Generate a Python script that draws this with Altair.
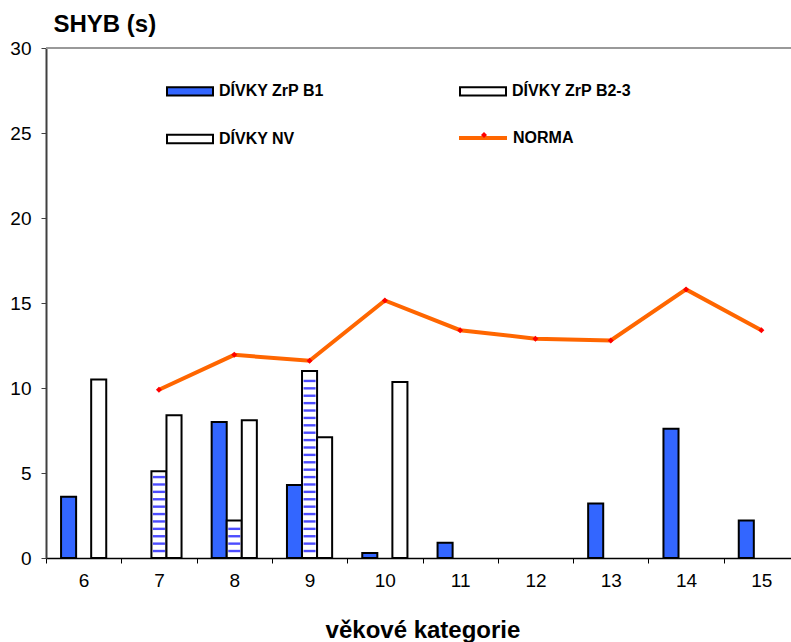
import altair as alt
import pandas as pd

categories = [6, 7, 8, 9, 10, 11, 12, 13, 14, 15]
b1 = [3.6, None, 8.0, 4.3, 0.3, 0.9, None, 3.2, 7.6, 2.2]
b23 = [None, 5.1, 2.2, 11.0, None, None, None, None, None, None]
nv = [10.5, 8.4, 8.1, 7.1, 10.35, None, None, None, None, None]
norma = [None, 9.9, 11.95, 11.6, 15.15, 13.4, 12.9, 12.8, 15.8, 13.4]

series_names = ["DÍVKY ZrP B1", "DÍVKY ZrP B2-3", "DÍVKY NV"]
legend_order = ["DÍVKY ZrP B1", "DÍVKY NV", "DÍVKY ZrP B2-3"]
legend_fill = ["#3366FF", "#FFFFFF", "#FFFFFF"]

rows = []
for name, vals in zip(series_names, [b1, b23, nv]):
    for c, v in zip(categories, vals):
        if v is not None:
            rows.append({"cat": c, "series": name, "value": v})
bars_df = pd.DataFrame(rows)

norma_df = pd.DataFrame(
    [{"cat": c, "value": v, "s": "NORMA", "p": "NORMA "} for c, v in zip(categories, norma) if v is not None]
)

FONT = "Liberation Sans"

x_scale = alt.Scale(type="band", paddingInner=0, paddingOuter=0, range=[0, 753])
xoff_scale = alt.Scale(domain=series_names, paddingInner=0, paddingOuter=1)
y_scale = alt.Scale(domain=[0, 30], nice=False)

x_axis = alt.Axis(
    title="věkové kategorie", titleFontSize=24, titleFontWeight="bold", titleFont=FONT,
    titleColor="black", titlePadding=28,
    labelFontSize=19, labelFont=FONT, labelColor="black", labelAngle=0, labelPadding=8,
    tickBand="extent", tickSize=5, tickColor="black", tickWidth=1,
    domainColor="black", domainWidth=1.5,
)
y_axis = alt.Axis(
    values=[0, 5, 10, 15, 20, 25, 30], grid=False, tickSize=5, tickColor="#404040",
    labelFontSize=19, labelFont=FONT, labelColor="black", labelPadding=10,
    domainColor="#404040", domainWidth=2,
    title="SHYB (s)", titleAngle=0, titleX=7, titleY=-24, titleAlign="left",
    titleBaseline="middle", titleFontSize=24, titleFontWeight="bold", titleFont=FONT,
    titleColor="black",
)

rect_path = "M-1,-0.18H1V0.18H-1Z"

bars = alt.Chart(bars_df).mark_bar(stroke="black", strokeWidth=2).encode(
    x=alt.X("cat:O", scale=x_scale, axis=x_axis),
    xOffset=alt.XOffset("series:N", scale=xoff_scale),
    y=alt.Y("value:Q", scale=y_scale, axis=y_axis),
    fill=alt.Fill(
        "series:N",
        scale=alt.Scale(domain=legend_order, range=legend_fill),
        legend=alt.Legend(
            title=None, orient="none", legendX=120, legendY=19, columns=2,
            columnPadding=132, rowPadding=15,
            symbolType=rect_path, symbolSize=2116, symbolStrokeColor="black",
            symbolStrokeWidth=2, labelFontSize=16, labelFont=FONT,
            labelFontWeight="bold", labelColor="black", labelOffset=5,
        ),
    ),
)

hatch = alt.Chart(bars_df).transform_filter(
    alt.datum.series == "DÍVKY ZrP B2-3"
).transform_calculate(
    h="sequence(0.41, datum.value - 0.15, 0.435)"
).transform_flatten(["h"]).mark_tick(
    orient="horizontal", size=12, thickness=2.4, color="#0000FF"
).encode(
    x=alt.X("cat:O"),
    xOffset=alt.XOffset("series:N"),
    y=alt.Y("h:Q"),
)

line = alt.Chart(norma_df).mark_line(strokeWidth=4).encode(
    x=alt.X("cat:O"),
    y=alt.Y("value:Q"),
    stroke=alt.Stroke(
        "s:N",
        scale=alt.Scale(domain=["NORMA"], range=["#FF6600"]),
        legend=alt.Legend(
            title=None, orient="none", legendX=411, legendY=64,
            symbolType="stroke", symbolSize=2304, symbolStrokeWidth=4,
            labelFontSize=16, labelFont=FONT, labelFontWeight="bold",
            labelColor="black", labelOffset=4,
        ),
    ),
)

points = alt.Chart(norma_df).mark_point(
    filled=True, size=36, opacity=1
).encode(
    x=alt.X("cat:O"),
    y=alt.Y("value:Q"),
    shape=alt.Shape(
        "p:N",
        scale=alt.Scale(domain=["NORMA "], range=["diamond"]),
        legend=alt.Legend(
            title=None, orient="none", legendX=434, legendY=83,
            symbolFillColor="#FF0000", symbolStrokeColor="#FF0000", symbolSize=36,
            labelExpr="''", labelFontSize=1,
        ),
    ),
    color=alt.value("#FF0000"),
)

top_rule = alt.Chart(norma_df).mark_rule(color="#999999", strokeWidth=2).encode(
    y=alt.datum(30)
)

chart = alt.layer(top_rule, bars, hatch, line, points).properties(
    width=745, height=510,
    autosize=alt.AutoSizeParams(type="none"),
    padding={"left": 46, "top": 48, "right": 0, "bottom": 84},
).configure_view(stroke=None).configure(background="white")

chart.save("out.html", embed_options={"renderer": "svg", "actions": False})
